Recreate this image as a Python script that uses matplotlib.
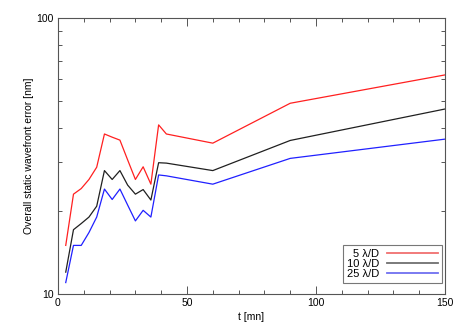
import numpy as np
import matplotlib
matplotlib.use('Agg')
import matplotlib.pyplot as plt
from matplotlib.ticker import MultipleLocator, LogLocator, NullFormatter, FixedFormatter, FixedLocator

t = [3, 6, 9, 12, 15, 18, 21, 24, 27, 30, 33, 36, 39, 42, 60, 90, 150]
err_5 = [15.0, 23.0, 24.1, 26.0, 28.8, 38.0, 37.0, 36.1, 30.6, 26.0, 28.9, 25.0, 41.0, 38.0, 35.2, 49.1, 62.2]
err_10 = [12.0, 17.1, 18.0, 19.0, 20.8, 28.0, 26.0, 28.0, 24.8, 23.0, 23.9, 21.9, 29.9, 29.8, 28.0, 36.0, 46.8]
err_25 = [11.0, 15.0, 15.0, 16.7, 19.0, 24.0, 22.0, 24.0, 21.0, 18.4, 20.1, 19.0, 27.0, 26.8, 25.0, 31.0, 36.4]
labels = ['5 λ/D', '10 λ/D', '25 λ/D']

plt.rcParams['font.family'] = ['Liberation Sans', 'DejaVu Sans']
plt.rcParams['font.size'] = 7.5

fig = plt.figure(figsize=(4.63, 3.31), dpi=100)
ax = fig.add_axes([58/463, 1-294/331, (445-58)/463, (294-18)/331])

ax.plot(t, err_5, color='#ff2020', lw=0.9, label=labels[0])
ax.plot(t, err_10, color='#202020', lw=0.9, label=labels[1])
ax.plot(t, err_25, color='#2020ff', lw=0.9, label=labels[2])

ax.set_yscale('log')
ax.set_xlim(0, 150)
ax.set_ylim(10, 100)

ax.xaxis.set_major_locator(MultipleLocator(50))
ax.xaxis.set_minor_locator(MultipleLocator(10))
ax.yaxis.set_major_locator(FixedLocator([10, 100]))
ax.yaxis.set_major_formatter(FixedFormatter(['10', '100']))
ax.yaxis.set_minor_locator(LogLocator(base=10, subs=np.arange(2, 10)))
ax.yaxis.set_minor_formatter(NullFormatter())

ax.tick_params(which='both', direction='in', top=True, right=True, color='#555555', width=0.7)
ax.tick_params(which='major', length=6, pad=3)
ax.tick_params(which='minor', length=3)
for s in ax.spines.values():
    s.set_color('#555555')
    s.set_linewidth(0.8)

ax.set_xlabel('t [mn]', labelpad=3)
ax.set_ylabel('Overall static wavefront error [nm]', labelpad=2)

leg = ax.legend(loc='lower right', markerfirst=False, fancybox=False, edgecolor='#777777',
                handlelength=4.6, borderpad=0.35, labelspacing=0.0, handletextpad=0.7,
                borderaxespad=0, framealpha=1, bbox_to_anchor=(0.9925, 0.04), prop={'size': 8})
for txt in leg.get_texts():
    txt.set_ha('right')
leg_colors = ['#f07070', '#707070', '#7070f0']
for h, c in zip(leg.get_lines(), leg_colors):
    h.set_color(c)
    h.set_linewidth(1.3)
leg.get_frame().set_linewidth(0.8)

fig.savefig('out.png', dpi=100)
